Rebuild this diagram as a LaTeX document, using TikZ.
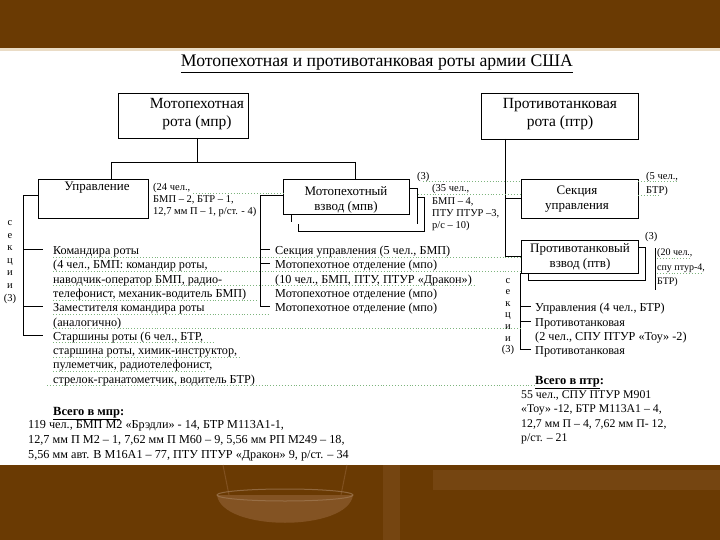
\documentclass[tikz,border=0pt]{standalone}
\usepackage{fontspec}
\setmainfont{Liberation Serif}
\definecolor{brownbg}{HTML}{6A3A03}
\definecolor{brownlt}{HTML}{8A5A2C}
\definecolor{beigeln}{HTML}{EADCC6}
\definecolor{spellg}{HTML}{7DB47D}
\begin{document}
\begin{tikzpicture}[x=1pt,y=-1pt,
 box/.style={draw=black, line width=0.8pt, fill=white, inner sep=0pt, rectangle},
 ln/.style={draw=black, line width=0.8pt},
 bigt/.style={font=\fontsize{15.5}{18}\selectfont, align=center, inner sep=0pt},
 midt/.style={font=\fontsize{13}{15}\selectfont, align=center, inner sep=0pt},
 smt/.style={font=\fontsize{10.5}{12}\selectfont, inner sep=0pt, anchor=base west},
 rowt/.style={font=\fontsize{12.2}{14}\selectfont, inner sep=0pt, anchor=base west},
 vlet/.style={font=\fontsize{10.5}{12}\selectfont, inner sep=0pt, anchor=base},
 spell/.style={draw=spellg, line width=0.9pt, dotted},
]
\useasboundingbox (0,0) rectangle (720,540);
% background
\fill[white] (0,0) rectangle (720,540);
\fill[brownbg] (0,0) rectangle (720,48);
\fill[beigeln] (0,48) rectangle (720,51);
\fill[brownbg] (0,465) rectangle (720,540);
\fill[brownlt, opacity=0.35] (383,465) rectangle (400,540);
\fill[brownlt, opacity=0.35] (433,470) rectangle (720,490);
\draw[brownlt, line width=1pt, opacity=0.7] (223,465) -- (229,495) (347,465) -- (341,495);
\fill[brownlt, opacity=0.8] (217,495) .. controls (222,532) and (348,532) .. (353,495) -- cycle;
\draw[brownlt!80!white, line width=1pt, opacity=0.7] (285,495) ellipse (68pt and 6pt);

% title
\node[font=\fontsize{17.7}{20}\selectfont, inner sep=0pt] (title) at (377,64) {\underline{Мотопехотная и противотанковая роты армии США}};

% company boxes
\node[box, minimum width=130pt, minimum height=45pt] (mpr) at (183,115.5) {};
\node[bigt] (mprt) at (197,114) {Мотопехотная\\рота (мпр)};
\node[box, minimum width=157pt, minimum height=46pt] (ptr) at (559.5,116) {};
\node[bigt] (ptrt) at (560,114) {Противотанковая\\рота (птр)};

% second level boxes
\node[box, minimum width=110pt, minimum height=39pt] (upr) at (93,198.5) {};
\node[midt] (uprt) at (97,188) {Управление};

% stacked platoon boxes (mpv)
\draw[ln] (291,214) -- (291,222);
\draw[ln] (409,188) -- (417,188) -- (417,224);
\draw[ln] (417,197) -- (424,197) -- (424,231) -- (298,231) -- (298,224);
\node[box, minimum width=126pt, minimum height=35pt] (mpv) at (346,196.5) {};
\node[midt] (mpvt) at (346,200) {Мотопехотный\\взвод (мпв)};

\node[box, minimum width=117pt, minimum height=39pt] (secu) at (579.5,198.5) {};
\node[midt] (secut) at (577,199.5) {Секция\\управления};

% stacked ptv
\draw[ln] (638,247) -- (645,247) -- (645,280) -- (528,280) -- (528,273);
\node[box, minimum width=117pt, minimum height=33pt] (ptv) at (579.5,256.5) {};
\node[midt] (ptvt) at (580,257) {Противотанковый\\взвод (птв)};
\coordinate (brk1) at (655,248);
\coordinate (brk2) at (655,290);
\draw[ln] (brk1) -- (brk2);

% small labels
\node[smt] (l24a) at (153,190.5) {(24 чел.,};
\node[smt] (l24b) at (153,202.5) {БМП – 2, БТР – 1,};
\node[smt] (l24c) at (153,214.5) {12,7 мм П – 1, р/ст. - 4)};
\node[smt] (l3a) at (417,180) {(3)};
\node[smt] (l35a) at (432,192) {(35 чел.,};
\node[smt] (l35b) at (432,205) {БМП – 4,};
\node[smt] (l35c) at (432,217) {ПТУ ПТУР –3,};
\node[smt] (l35d) at (432,229) {р/с – 10)};
\node[smt] (l5a) at (646,180) {(5 чел.,};
\node[smt] (l5b) at (646,194) {БТР)};
\node[smt] (l3b) at (645,240) {(3)};
\node[smt, font=\fontsize{10}{12}\selectfont] (l20a) at (657,255) {(20 чел.,};
\node[smt, font=\fontsize{10}{12}\selectfont] (l20b) at (657,270) {спу птур-4,};
\node[smt, font=\fontsize{10}{12}\selectfont] (l20c) at (657,284) {БТР)};

% vertical "секции (3)"
\foreach \t [count=\i] in {с,е,к,ц,и,и,(3)}
  \node[vlet] (sl\i) at (10,{225.5+12.6*(\i-1)}) {\t};
\foreach \t [count=\i] in {с,е,к,ц,и,и,(3)}
  \node[vlet] (sr\i) at (508,{283+11.6*(\i-1)}) {\t};

% left column
\foreach \t [count=\i] in {{Командира роты},{(4 чел., БМП: командир роты,},{наводчик-оператор БМП, радио-},{телефонист, механик-водитель БМП)},{Заместителя командира роты},{(аналогично)},{Старшины роты (6 чел., БТР,},{старшина роты, химик-инструктор,},{пулеметчик, радиотелефонист,},{стрелок-гранатометчик, водитель БТР)}}
  \node[rowt] (L\i) at (53,{254.5+14.3*(\i-1)}) {\t};
% middle column
\foreach \t [count=\i] in {{Секция управления (5 чел., БМП)},{Мотопехотное отделение (мпо)},{(10 чел., БМП, ПТУ, ПТУР «Дракон»)},{Мотопехотное отделение (мпо)},{Мотопехотное отделение (мпо)}}
  \node[rowt] (M\i) at (275,{254.5+14.3*(\i-1)}) {\t};
% right column
\foreach \t [count=\i] in {{Управления (4 чел., БТР)},{Противотанковая},{(2 чел., СПУ ПТУР «Тоу» -2)},{Противотанковая}}
  \node[rowt] (R\i) at (535,{311.7+14.3*(\i-1)}) {\t};

% totals
\node[rowt, font=\fontsize{12.5}{14}\selectfont\bfseries] (tm) at (53,415) {\underline{Всего в мпр}:};
\foreach \t [count=\i] in {{119 чел., БМП М2 «Брэдли» - 14, БТР М113А1-1,},{12,7 мм П М2 – 1, 7,62 мм П М60 – 9, 5,56 мм РП М249 – 18,},{5,56 мм авт. В М16А1 – 77, ПТУ ПТУР «Дракон» 9, р/ст. – 34}}
  \node[rowt, font=\fontsize{12.2}{14}\selectfont] (T\i) at (28,{428+15*(\i-1)}) {\t};
\node[rowt, font=\fontsize{12.5}{14}\selectfont\bfseries] (tp) at (535,384) {\underline{Всего в птр}:};
\foreach \t [count=\i] in {{55 чел., СПУ ПТУР М901},{«Тоу» -12, БТР М113А1 – 4,},{12,7 мм П – 4, 7,62 мм П- 12,},{р/ст. – 21}}
  \node[rowt, font=\fontsize{11.8}{14}\selectfont] (P\i) at (521,{398+14.5*(\i-1)}) {\t};

% anchor helpers
\foreach \n in {L1,L5,L7,M1,M2,M5,R1,R2,R4}
  \coordinate (\n b) at ([yshift=5pt]\n.base west);

% connectors: mpr tree
\coordinate (mprb) at (197,138);
\coordinate (bus) at (197,162);
\coordinate (busl) at (111,162);
\coordinate (busr) at (355,162);
\draw[ln] (mprb) -- (bus);
\draw[ln] (busl) -- (busr);
\draw[ln] (busl) -- (111,0 |- upr.north);
\draw[ln] (busr) -- (355,0 |- mpv.north);

% upr sections
\coordinate (ua) at (23,195);
\coordinate (ub) at (23,0 |- L7b);
\draw[ln] (upr.west |- ua) -- (ua) -- (ub) -- ([xshift=-10pt]L7b);
\draw[ln] (23,0 |- L1b) -- ([xshift=-10pt]L1b);
\draw[ln] (23,0 |- L5b) -- ([xshift=-10pt]L5b);

% mpv sections
\coordinate (ma) at (260,195);
\coordinate (mb) at (260,0 |- M5b);
\draw[ln] (mpv.west |- ma) -- (ma) -- (mb) -- ([xshift=-5pt]M5b);
\draw[ln] (260,0 |- M1b) -- ([xshift=-5pt]M1b);
\draw[ln] (260,0 |- M2b) -- ([xshift=-5pt]M2b);

% ptr tree
\coordinate (pa) at (505,139);
\coordinate (pb) at (505,0 |- ptv.west);
\draw[ln] (pa) -- (pb) -- (ptv.west);
\draw[ln] (505,0 |- secu.west) -- (secu.west);

% ptv sections
\coordinate (pc) at (ptv.south west);
\coordinate (pd) at (pc |- R4b);
\draw[ln] (pc) -- (pd) -- ([xshift=-4pt]R4b);
\draw[ln] (pc |- R1b) -- ([xshift=-4pt]R1b);
\draw[ln] (pc |- R2b) -- ([xshift=-4pt]R2b);

% spell-check underlines
\draw[spell] (193,193) -- (283,193);
\draw[spell] (423,181) -- (521,181);
\draw[spell] (418,194) -- (521,194);
\draw[spell] (638,181) -- (677,181);
\draw[spell] (638,195) -- (660,195);
\draw[spell] (53,257) -- (521,257);
\draw[spell] (53,271) -- (521,271);
\draw[spell] (53,285.5) -- (475,285.5);
\draw[spell] (53,300) -- (258,300);
\draw[spell] (53,314) -- (270,314);
\draw[spell] (53,328) -- (521,328);
\draw[spell] (53,342.5) -- (215,342.5);
\draw[spell] (53,357) -- (240,357);
\draw[spell] (53,371) -- (205,371);
\draw[spell] (47,385) -- (535,385);
\draw[spell] (657,258) -- (690,258);
\draw[spell] (657,273) -- (702,273);
\end{tikzpicture}
\end{document}
